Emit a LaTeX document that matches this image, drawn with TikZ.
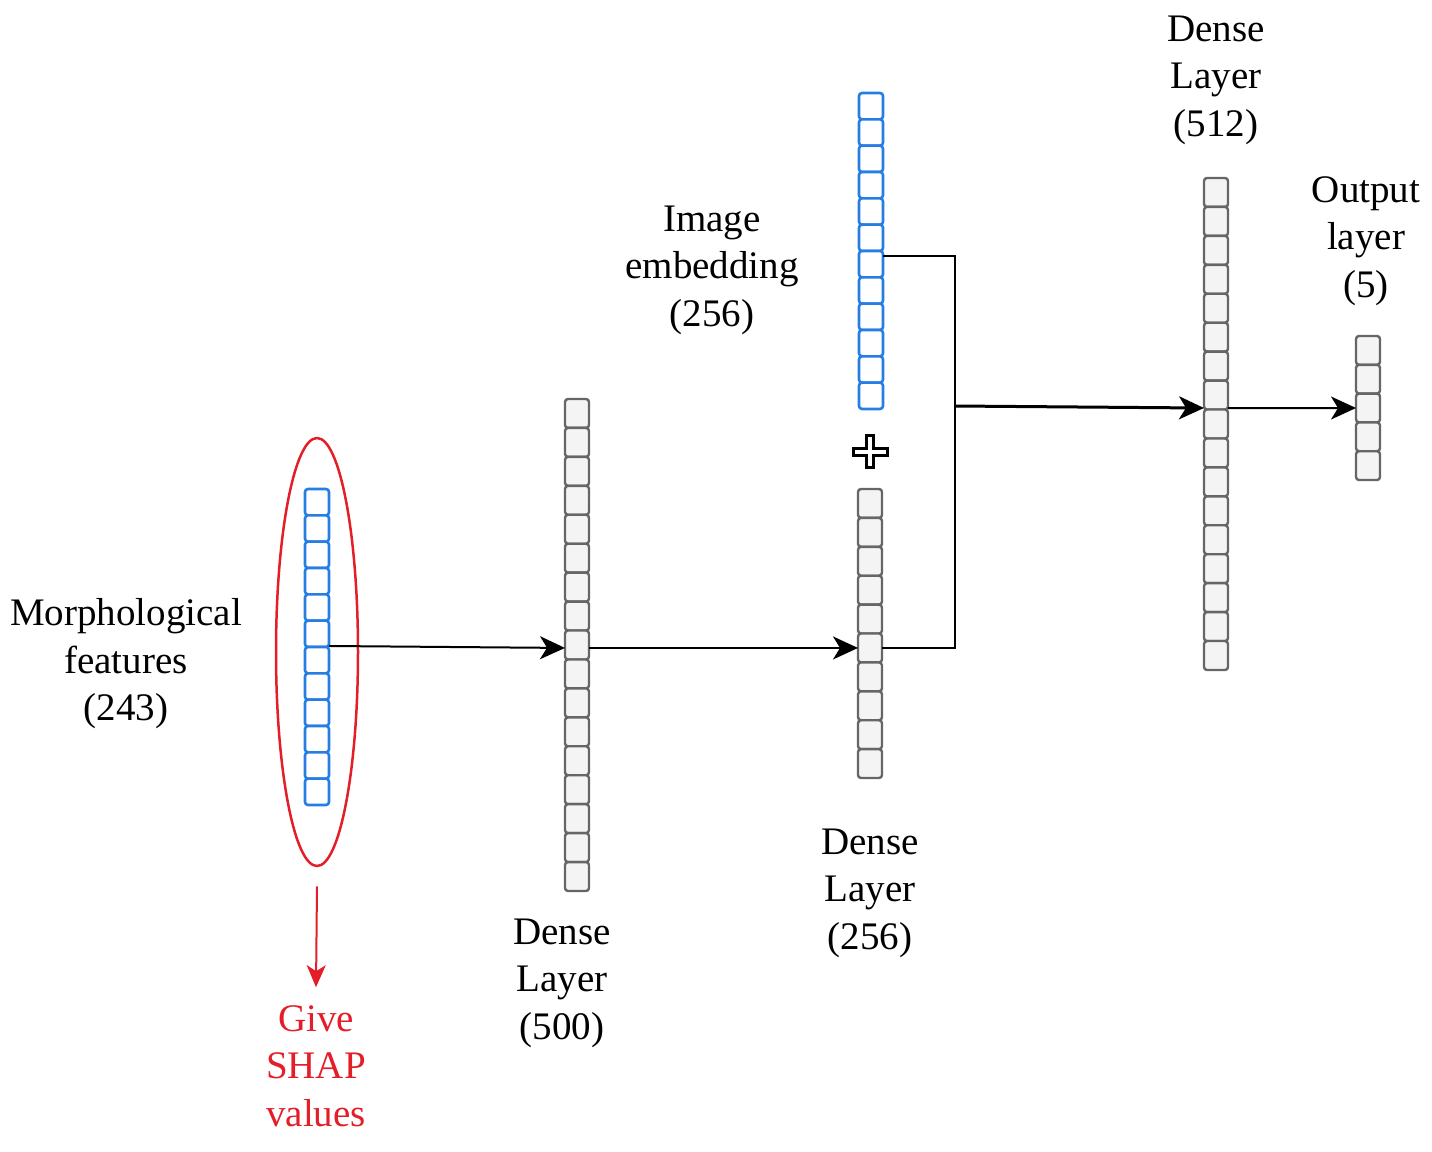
\documentclass[tikz,border=0pt]{standalone}
\usepackage{fontspec}
\setmainfont{Liberation Serif}
\usetikzlibrary{arrows.meta,calc,shapes.geometric}
\definecolor{cellblue}{RGB}{38,125,228}
\definecolor{cellgray}{RGB}{102,102,102}
\definecolor{cellfill}{RGB}{244,244,244}
\definecolor{shapred}{RGB}{228,30,40}
\begin{document}
\begin{tikzpicture}[x=1pt,y=-1pt,
  bluecell/.style={draw=cellblue, fill=white, line width=2.6pt, rounded corners=3pt,
    minimum width=24pt, inner sep=0pt, outer sep=0pt},
  graycell/.style={draw=cellgray, fill=cellfill, line width=2.4pt, rounded corners=3pt,
    minimum width=24pt, inner sep=0pt, outer sep=0pt},
  lbl/.style={align=center, font=\fontsize{39}{47.5}\selectfont, inner sep=0pt},
  wire/.style={line width=2pt, black},
  conn/.style={wire, -{Stealth[length=25pt,width=23pt,inset=7pt]}},
  redconn/.style={line width=2pt, shapred, -{Stealth[length=22pt,width=19pt,inset=6pt]}},
]
\useasboundingbox (0,0) rectangle (1432,1151);

% columns of cells
\foreach \i in {1,...,12} \node[bluecell, minimum height=26.33pt] (m\i) at (317, {489+(\i-0.5)*26.33}) {};
\foreach \i in {1,...,17} \node[graycell, minimum height=28.94pt] (a\i) at (577, {399+(\i-0.5)*28.94}) {};
\foreach \i in {1,...,12} \node[bluecell, minimum height=26.33pt] (e\i) at (871, {93+(\i-0.5)*26.33}) {};
\foreach \i in {1,...,10} \node[graycell, minimum height=28.9pt] (b\i) at (870, {489+(\i-0.5)*28.9}) {};
\foreach \i in {1,...,17} \node[graycell, minimum height=28.94pt] (c\i) at (1216, {178+(\i-0.5)*28.94}) {};
\foreach \i in {1,...,5} \node[graycell, minimum height=28.8pt] (o\i) at (1368, {336+(\i-0.5)*28.8}) {};

% red ellipse around the morphological features
\node[ellipse, draw=shapred, line width=2.5pt, minimum width=82pt, minimum height=428pt, inner sep=0pt] (roi) at (317,652) {};

% plus sign
\draw[line width=3pt, fill=white]
  (866.5,435.5) -- (873.5,435.5) -- (873.5,448) -- (887,448) -- (887,455) -- (873.5,455)
  -- (873.5,467.5) -- (866.5,467.5) -- (866.5,455) -- (853,455) -- (853,448) -- (866.5,448) -- cycle;

% labels
\node[lbl] (lmorph) at (126,664) {Morphological\\features\\(243)};
\node[lbl] (limg) at (712,270) {Image\\embedding\\(256)};
\node[lbl] (l500) at (562,983) {Dense\\Layer\\(500)};
\node[lbl] (l256) at (870,893) {Dense\\Layer\\(256)};
\node[lbl] (l512) at (1216,80) {Dense\\Layer\\(512)};
\node[lbl] (lout) at (1366,241) {Output\\layer\\(5)};
\node[lbl, text=shapred] (shap) at (316,1066) {Give\\SHAP\\values};

% connectors
\coordinate (j) at (955,406);
\draw[conn] ([yshift=1pt]m6.south east) -- (a9.west |- b6.west);
\draw[conn] (a9.east |- b6.west) -- (b6.west);
\draw[wire, line join=miter] ([yshift=-5pt]e7.north east) -| (j) |- (b6.east);
\draw[conn, line width=3pt] (j) -- ([yshift=1.5pt]c8.south west);
\draw[conn] ([yshift=1.5pt]c8.south east) -- (o3.west);
\draw[redconn] ([yshift=-19pt]roi.south) -- ([yshift=18pt]shap.north);
\end{tikzpicture}
\end{document}
